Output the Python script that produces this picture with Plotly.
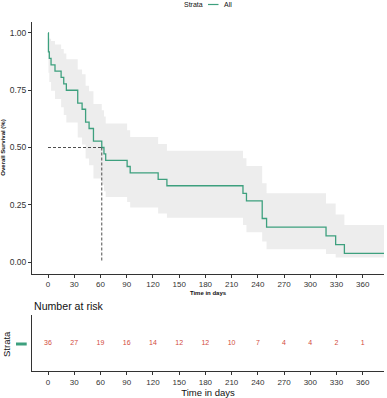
import plotly.graph_objects as go

# ---- data ----
step_days = [0, 0.5, 1.5, 3.5, 8, 15, 18, 21, 34, 39, 43, 47, 52, 61.5, 64, 66,
             90.5, 94, 126, 136, 223, 227, 245, 250, 318, 329, 339, 386]
survival = [1.0, 0.917, 0.889, 0.861, 0.833, 0.806, 0.778, 0.75, 0.694, 0.667, 0.611,
            0.583, 0.528, 0.5, 0.472, 0.444, 0.417, 0.389, 0.361, 0.333, 0.3, 0.267,
            0.19, 0.152, 0.114, 0.076, 0.038, 0.038]
ci_upper = [1.0, 0.98, 0.975, 0.965, 0.95, 0.93, 0.91, 0.885, 0.84, 0.82, 0.77,
            0.745, 0.69, 0.663, 0.635, 0.605, 0.575, 0.546, 0.515, 0.486, 0.453,
            0.419, 0.344, 0.30, 0.256, 0.208, 0.162, 0.162]
ci_lower = [1.0, 0.826, 0.786, 0.748, 0.712, 0.676, 0.642, 0.609, 0.544, 0.513,
            0.452, 0.422, 0.365, 0.337, 0.309, 0.284, 0.262, 0.238, 0.212, 0.193,
            0.162, 0.13, 0.09, 0.056, 0.035, 0.02, 0.02, 0.02]
median_day = 61.5
median_surv = 0.5

risk_days = [0, 30, 60, 90, 120, 150, 180, 210, 240, 270, 300, 330, 360]
n_at_risk = [36, 27, 19, 16, 14, 12, 12, 10, 7, 4, 4, 2, 1]

y_ticks = [0, 0.25, 0.5, 0.75, 1.0]
y_ticklabels = ["0.00", "0.25", "0.50", "0.75", "1.00"]

GREEN = "#3DA07E"
RED = "#D24B40"
BAND = "#EDEDED"
AX = "#333333"
FONT = "Liberation Sans, Arial, sans-serif"
W, H = 387, 398

fig = go.Figure()

# confidence band
fig.add_trace(go.Scatter(x=step_days, y=ci_upper, mode="lines", line=dict(width=0, shape="hv"),
                         showlegend=False, hoverinfo="skip"))
fig.add_trace(go.Scatter(x=step_days, y=ci_lower, mode="lines", line=dict(width=0, shape="hv"),
                         fill="tonexty", fillcolor=BAND, showlegend=False, hoverinfo="skip"))
# survival curve
fig.add_trace(go.Scatter(x=step_days, y=survival, mode="lines", name="All",
                         line=dict(color=GREEN, width=1.3, shape="hv"), showlegend=False))
# median lines
fig.add_trace(go.Scatter(x=[0, median_day], y=[median_surv, median_surv], mode="lines",
                         line=dict(color="#222222", width=0.8, dash="3px,2px"), showlegend=False))
fig.add_trace(go.Scatter(x=[median_day, median_day], y=[median_surv, 0], mode="lines",
                         line=dict(color="#222222", width=0.8, dash="3px,2px"), showlegend=False))

# risk table
fig.add_trace(go.Scatter(x=risk_days, y=[0.5] * len(risk_days), mode="text",
                         text=[str(v) for v in n_at_risk],
                         textfont=dict(color=RED, size=7, family=FONT),
                         xaxis="x2", yaxis="y2", showlegend=False, hoverinfo="skip"))

xdom = [32 / W, 384 / W]
xrange_ = [-18.3, 384.3]
common_x = dict(domain=xdom, range=xrange_, tickvals=risk_days, ticks="outside", ticklen=3,
                tickcolor=AX, tickwidth=1, showline=True, linecolor=AX, linewidth=1,
                showgrid=False, zeroline=False, automargin=False,
                tickfont=dict(size=8, color=AX, family=FONT))

fig.update_layout(
    width=W, height=H, margin=dict(l=0, r=0, t=0, b=0, autoexpand=False),
    paper_bgcolor="white", plot_bgcolor="white", showlegend=False,
    font=dict(family=FONT),
    xaxis=dict(**common_x, anchor="y",
               title=dict(text="<b>Time in days</b>", font=dict(size=6, color="#111"), standoff=2)),
    yaxis=dict(domain=[1 - 273.5 / H, 1 - 21.5 / H], range=[-0.05, 1.05], tickvals=y_ticks,
               ticktext=y_ticklabels, ticks="outside", ticklen=3, tickcolor=AX, showline=True,
               linecolor=AX, linewidth=1, showgrid=False, zeroline=False, automargin=False,
               tickfont=dict(size=8.5, color=AX, family=FONT), anchor="x",
               title=dict(text="<b>Overall Survival (%)</b>", font=dict(size=6, color="#111"), standoff=3)),
    xaxis2=dict(**common_x, anchor="y2",
                title=dict(text="Time in days", font=dict(size=9.5, color="#111"), standoff=1)),
    yaxis2=dict(domain=[1 - 371 / H, 1 - 315 / H], range=[0, 1], showticklabels=False,
                ticks="", showline=True, linecolor=AX, linewidth=1, showgrid=False,
                zeroline=False, anchor="x2", automargin=False),
)

# table titles / strata marker
fig.add_annotation(text="Number at risk", xref="paper", yref="paper", x=32 / W, y=1 - 305.5 / H,
                   xanchor="left", yanchor="middle", showarrow=False,
                   font=dict(size=10.6, color="#111", family=FONT))
fig.add_annotation(text="Strata", xref="paper", yref="paper", x=6 / W, y=1 - 344 / H,
                   xanchor="center", yanchor="middle", textangle=-90, showarrow=False,
                   font=dict(size=9.5, color="#111", family=FONT))
fig.add_shape(type="line", xref="paper", yref="paper", x0=16 / W, x1=26.7 / W,
              y0=1 - 344 / H, y1=1 - 344 / H, line=dict(color=GREEN, width=3))

# top legend
fig.add_annotation(text="Strata", xref="paper", yref="paper", x=204.5 / W, y=1 - 4.5 / H,
                   xanchor="right", yanchor="middle", showarrow=False,
                   font=dict(size=7, color="#111", family=FONT))
fig.add_shape(type="line", xref="paper", yref="paper", x0=208 / W, x1=218.5 / W,
              y0=1 - 4.5 / H, y1=1 - 4.5 / H, line=dict(color=GREEN, width=1.2))
fig.add_annotation(text="All", xref="paper", yref="paper", x=222 / W, y=1 - 4.5 / H,
                   xanchor="left", yanchor="middle", showarrow=False,
                   font=dict(size=7, color="#111", family=FONT))

fig.write_html("out.html", config={"displayModeBar": False},
               post_script="document.body.style.margin='0px';document.body.style.overflow='hidden';")
